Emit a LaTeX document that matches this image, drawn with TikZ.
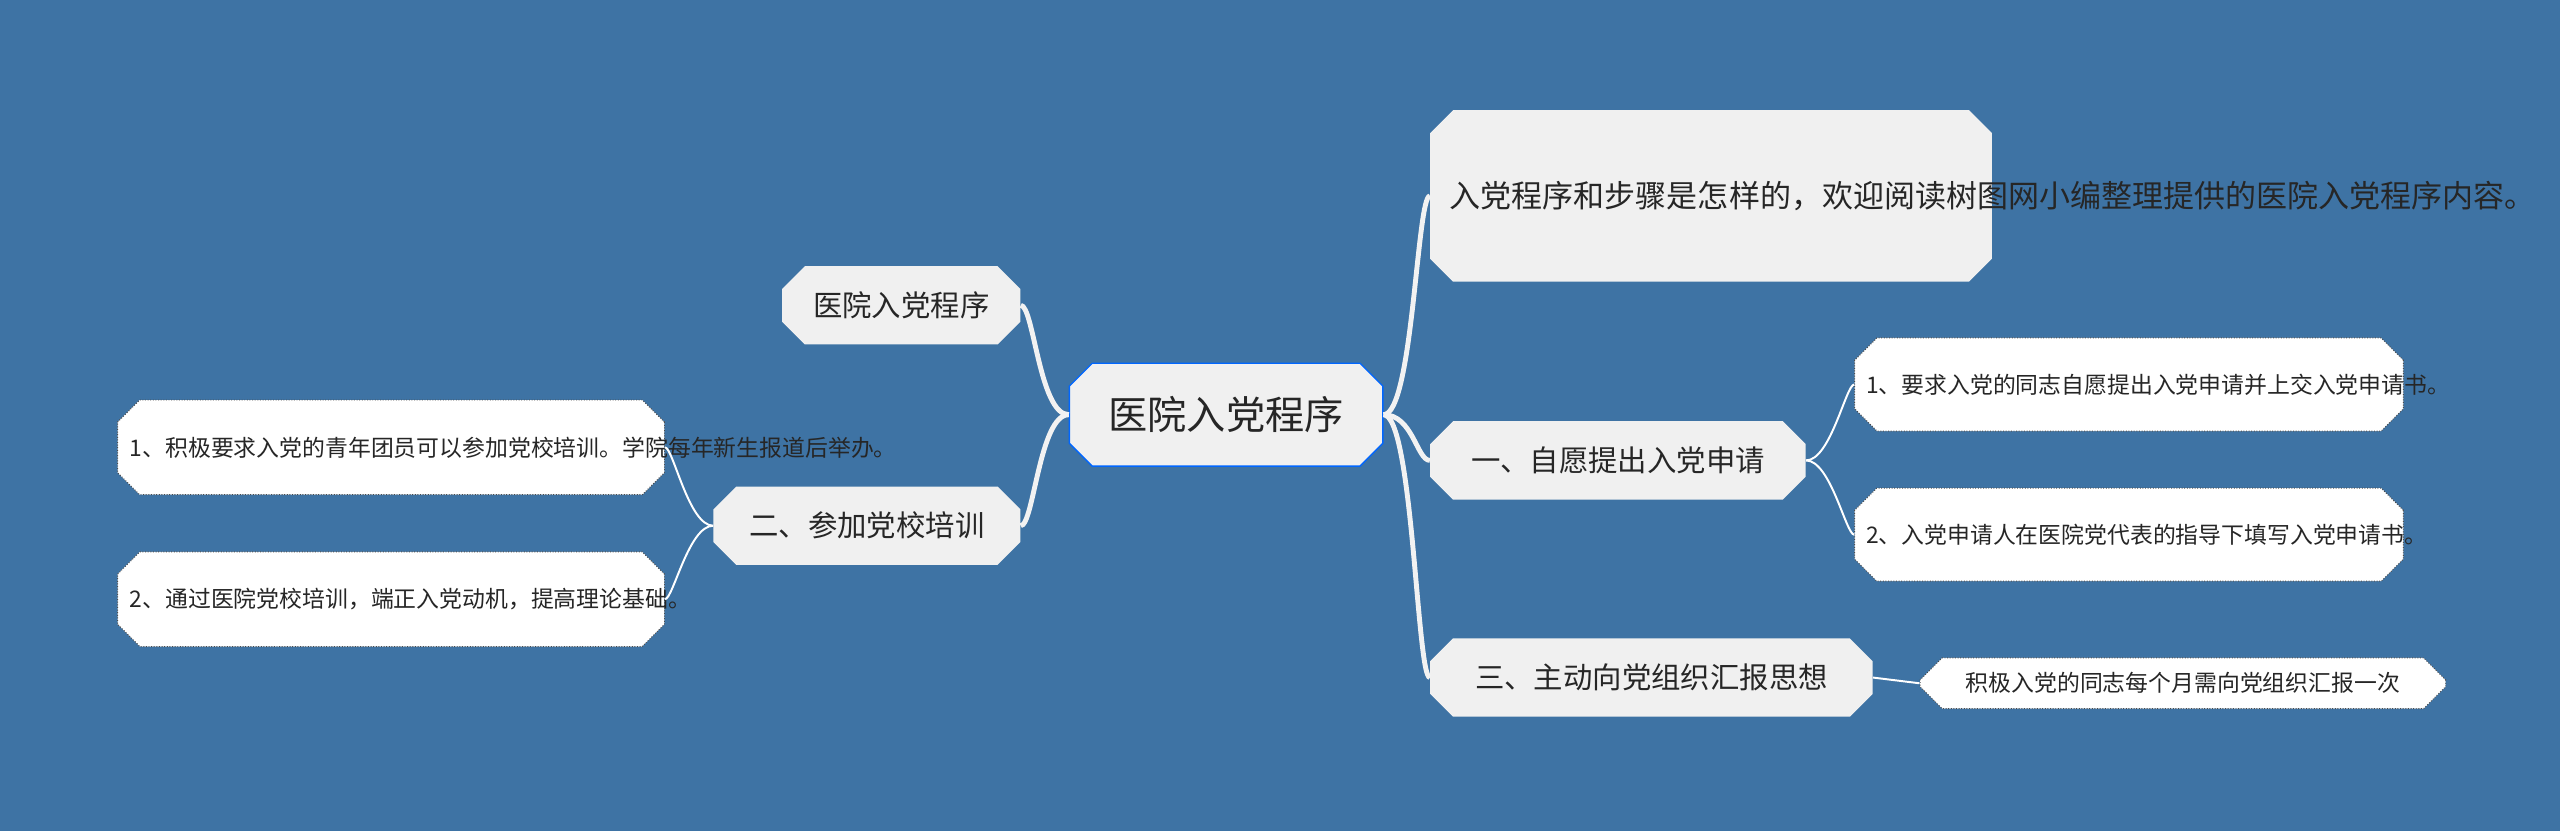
\documentclass[tikz,border=0pt]{standalone}
\usepackage{fontspec}
\setmainfont{Noto Sans CJK SC}
\usetikzlibrary{shapes.misc}
\begin{document}
\begin{tikzpicture}[x=1pt,y=-1pt,
 base/.style={chamfered rectangle,chamfered rectangle xsep=2cm,chamfered rectangle sep=7pt,inner sep=0pt,align=left,text=black!85},
 main/.style={base,fill=gray!12,draw=blue!60!cyan,line width=0.8pt,minimum width=192pt,minimum height=63pt,font=\fontsize{24}{28}\selectfont},
 sub/.style={base,fill=gray!12,draw=none,minimum height=48pt,font=\fontsize{18}{22}\selectfont},
 leaf/.style={base,fill=white,draw=black!70,densely dotted,line width=0.6pt,font=\fontsize{14}{19}\selectfont},
 conn/.style={white!90!gray,line width=3pt},
 lconn/.style={white,line width=1.2pt}]
\fill[fill={rgb,255:red,62;green,115;blue,164}] (0,0) rectangle (1568,509);
\node[main] (c) at (751,254) {医院入党程序};
\node[sub,minimum width=146pt] (a) at (552,187) {医院入党程序};
\node[sub,minimum width=188pt] (b) at (531,322) {二、参加党校培训};
\node[leaf,minimum width=335pt,minimum height=58pt,text width=320pt] (b1) at (239.5,274) {1、积极要求入党的青年团员可以参加党校培训。学院每年新生报道后举办。};
\node[leaf,minimum width=335pt,minimum height=58pt,text width=320pt] (b2) at (239.5,367) {2、通过医院党校培训，端正入党动机，提高理论基础。};
\node[sub,minimum width=344pt,minimum height=105pt,text width=320pt,font=\fontsize{19}{29}\selectfont] (d) at (1048,120) {入党程序和步骤是怎样的，欢迎阅读树图网小编整理提供的医院入党程序内容。};
\node[sub,minimum width=230pt] (e) at (991,282) {一、自愿提出入党申请};
\node[sub,minimum width=271pt] (f) at (1011.5,415) {三、主动向党组织汇报思想};
\node[leaf,minimum width=336pt,minimum height=57pt,text width=322pt] (e1) at (1304,235.5) {1、要求入党的同志自愿提出入党申请并上交入党申请书。};
\node[leaf,minimum width=336pt,minimum height=57pt,text width=322pt] (e2) at (1304,327.5) {2、入党申请人在医院党代表的指导下填写入党申请书。};
\node[leaf,minimum width=322pt,minimum height=31pt] (f1) at (1337,418.5) {积极入党的同志每个月需向党组织汇报一次};
\draw[conn] (c.west) .. controls +(-18,0) and +(8,0) .. (a.east);
\draw[conn] (c.west) .. controls +(-18,0) and +(8,0) .. (b.east);
\draw[conn] (c.east) .. controls +(18,0) and +(-8,0) .. (d.west);
\draw[conn] (c.east) .. controls +(18,0) and +(-8,0) .. (e.west);
\draw[conn] (c.east) .. controls +(18,0) and +(-8,0) .. (f.west);
\draw[lconn] (b.west) .. controls +(-15,0) and +(5,0) .. (b1.east);
\draw[lconn] (b.west) .. controls +(-15,0) and +(5,0) .. (b2.east);
\draw[lconn] (e.east) .. controls +(15,0) and +(-5,0) .. (e1.west);
\draw[lconn] (e.east) .. controls +(15,0) and +(-5,0) .. (e2.west);
\draw[lconn] (f.east) -- (f1.west);
\end{tikzpicture}
\end{document}
